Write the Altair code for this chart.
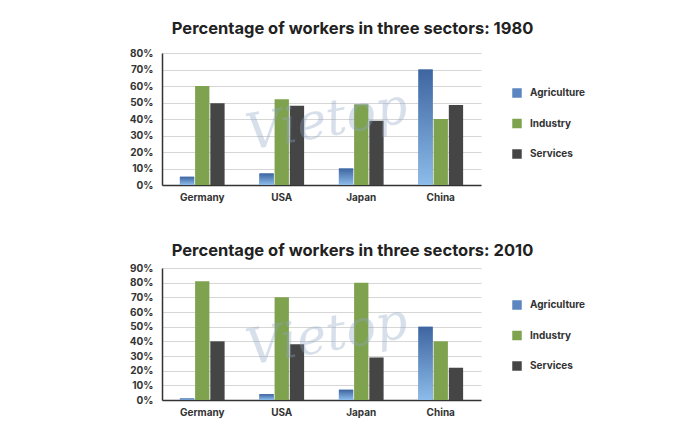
import altair as alt
import pandas as pd

countries = ["Germany", "USA", "Japan", "China"]
sectors = ["Agriculture", "Industry", "Services"]

agri_1980 = [5, 7, 10, 70]
ind_1980 = [60, 52, 49, 40]
serv_1980 = [49.5, 48, 39, 48.5]

agri_2010 = [1, 4, 7, 50]
ind_2010 = [81, 70, 80, 40]
serv_2010 = [40, 38, 29, 22]

colors = ["#5b86c0", "#7fa24f", "#454545"]
FONT = "Inter"


def make_df(a, i, s):
    rows = []
    for c, av, iv, sv in zip(countries, a, i, s):
        rows.append({"country": c, "sector": "Agriculture", "value": av})
        rows.append({"country": c, "sector": "Industry", "value": iv})
        rows.append({"country": c, "sector": "Services", "value": sv})
    return pd.DataFrame(rows)


def panel(df, title, ymax, legend_y, title_offset):
    x = alt.X("country:N", sort=countries, title=None,
              scale=alt.Scale(paddingInner=0.4375, paddingOuter=0.225),
              axis=alt.Axis(labelAngle=0, labelFont=FONT, labelFontSize=10,
                            labelFontWeight="bold", labelColor="#333",
                            ticks=False, domainColor="#333", domainWidth=1.5,
                            labelPadding=7))
    xo = alt.XOffset("sector:N", scale=alt.Scale(domain=sectors, paddingInner=0.06))
    y = alt.Y("value:Q", title=None,
              scale=alt.Scale(domain=[0, ymax], nice=False),
              axis=alt.Axis(values=list(range(0, ymax + 1, 10)),
                            labelExpr="datum.value + '%'",
                            labelFont=FONT, labelFontSize=10, labelFontWeight="bold",
                            labelColor="#333", ticks=False, domainColor="#333",
                            domainWidth=1.5, gridColor="#d6d6d6", labelPadding=9))
    base = alt.Chart(df)
    bars = base.mark_bar().encode(
        x=x, xOffset=xo, y=y,
        color=alt.Color("sector:N", scale=alt.Scale(domain=sectors, range=colors),
                        legend=alt.Legend(title=None, orient="none",
                                          legendX=350, legendY=legend_y,
                                          symbolType="square", symbolSize=90,
                                          symbolStrokeWidth=0,
                                          labelFont=FONT, labelFontSize=10,
                                          labelFontWeight="bold", labelColor="#333",
                                          rowPadding=20.5, labelOffset=8)),
    )
    grad = alt.Gradient(gradient="linear",
                        stops=[alt.GradientStop(color="#3e65a0", offset=0),
                               alt.GradientStop(color="#8cbcea", offset=1)],
                        x1=0, x2=0, y1=0, y2=1)
    agri = base.transform_filter(alt.datum.sector == "Agriculture").mark_bar(
        color=grad).encode(x=x, xOffset=xo, y=y)
    wm = alt.Chart(pd.DataFrame({"t": ["Vietop"]})).mark_text(
        font="DejaVu Serif", fontStyle="italic", fontSize=50, color="#8fa7c6",
        opacity=0.35, angle=350).encode(text="t:N", x=alt.value(165), y=alt.value(68))
    return alt.layer(bars, agri, wm).properties(
        width=319, height=132,
        title=alt.TitleParams(title, fontSize=16.5, font=FONT, fontWeight="bold",
                              color="#222", anchor="middle", dx=31,
                              offset=title_offset),
    )


top = panel(make_df(agri_1980, ind_1980, serv_1980),
            "Percentage of workers in three sectors: 1980", 80, 35, 11)
bottom = panel(make_df(agri_2010, ind_2010, serv_2010),
               "Percentage of workers in three sectors: 2010", 90, 32, 4)

chart = (alt.vconcat(top, bottom, spacing=40)
         .resolve_scale(color="independent")
         .resolve_legend(color="independent")
         .configure_view(stroke=None)
         .properties(padding={"left": 121, "top": 12, "right": 5, "bottom": 5},
                     background="white"))

chart.save("out.html", embed_options={"renderer": "svg", "actions": False})
